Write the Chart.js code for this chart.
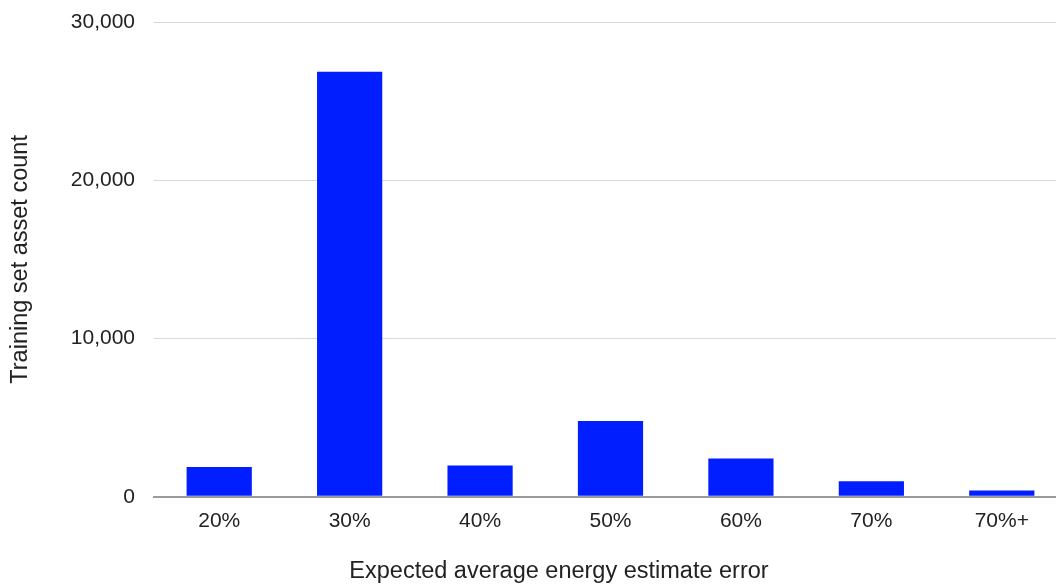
<!DOCTYPE html>
<html>
<head>
<meta charset="utf-8">
<script src="https://cdn.jsdelivr.net/npm/chart.js@4"></script>
<style>
  html, body { margin: 0; padding: 0; overflow: hidden; background: #fff; }
  #wrap { width: 1118px; height: 586px; }
</style>
</head>
<body>
<div id="wrap"><canvas id="error-chart"></canvas></div>
<script>
// Categories and counts
const categories = ['20%', '30%', '40%', '50%', '60%', '70%', '70%+'];
const assetCounts = [1880, 26850, 1980, 4790, 2420, 990, 400];
const yTicks = [0, 10000, 20000, 30000];

const font = "'Liberation Sans', Arial, sans-serif";
const textColor = '#222';

const ctx = document.getElementById('error-chart').getContext('2d');
const errorChart = new Chart(ctx, {
    type: 'bar',
    data: {
        labels: categories,
        datasets: [{
            label: 'Training set asset count',
            data: assetCounts,
            backgroundColor: '#001eff',
            borderWidth: 0,
            barPercentage: 0.5,
            categoryPercentage: 1.0
        }]
    },
    options: {
        responsive: true,
        maintainAspectRatio: false,
        animation: false,
        layout: { padding: { top: 22, left: 0, right: 0, bottom: 0 } },
        plugins: {
            legend: { display: false },
            tooltip: { enabled: false },
            // x axis title, centred on the whole (wider) canvas like the original
            title: {
                display: true,
                position: 'bottom',
                text: 'Expected average energy estimate error',
                color: textColor,
                font: { family: font, size: 23.5, weight: 'normal' },
                padding: { top: 10, bottom: 0 }
            }
        },
        scales: {
            x: {
                grid: { display: false, drawTicks: false },
                border: { display: true, color: '#9a9a9a', width: 2 },
                ticks: { color: textColor, font: { family: font, size: 21 }, padding: 12, maxRotation: 0 },
                afterFit: (s) => { s.height = 51; s.paddingLeft = 0; s.paddingRight = 0; }
            },
            y: {
                min: 0,
                max: 30000,
                afterBuildTicks: (s) => { s.ticks = yTicks.map(v => ({ value: v })); },
                grid: {
                    drawTicks: false,
                    color: (c) => c.tick && c.tick.value === 0 ? '#9a9a9a' : '#d9d9d9',
                    lineWidth: (c) => c.tick && c.tick.value === 0 ? 2 : 1
                },
                border: { display: false },
                ticks: {
                    color: textColor,
                    font: { family: font, size: 21 },
                    padding: 19,
                    callback: (v) => v.toLocaleString('en-US')
                },
                title: {
                    display: true,
                    text: 'Training set asset count',
                    color: textColor,
                    font: { family: font, size: 23.5 },
                    padding: { top: 6, bottom: 0 }
                },
                afterFit: (s) => { s.width = 154; s.paddingTop = 0; s.paddingBottom = 0; }
            },
            // empty right-hand spacer so the plot runs past the visible edge
            spacer: {
                type: 'linear',
                position: 'right',
                display: true,
                grid: { display: false, drawTicks: false },
                border: { display: false },
                ticks: { display: false },
                afterFit: (s) => { s.width = 51; s.paddingTop = 0; s.paddingBottom = 0; }
            }
        }
    }
});
</script>
</body>
</html>
